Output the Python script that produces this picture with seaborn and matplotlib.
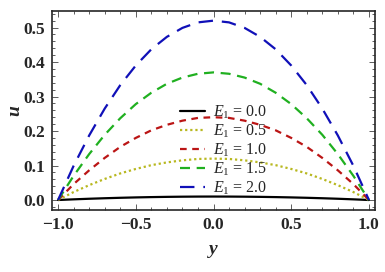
import numpy as np
import pandas as pd
import matplotlib
matplotlib.use("Agg")
import matplotlib.pyplot as plt
import seaborn as sns
from matplotlib.ticker import MultipleLocator

# values, y from -1.0 to 1.0 in steps of 0.1
y_vals = [-1.0, -0.9, -0.8, -0.7, -0.6, -0.5, -0.4, -0.3, -0.2, -0.1, 0.0,
          0.1, 0.2, 0.3, 0.4, 0.5, 0.6, 0.7, 0.8, 0.9, 1.0]
u_e00 = [0.0, 0.0019, 0.0036, 0.0051, 0.0064, 0.0075, 0.0084, 0.0091, 0.0096, 0.0099, 0.010,
         0.0099, 0.0096, 0.0091, 0.0084, 0.0075, 0.0064, 0.0051, 0.0036, 0.0019, 0.0]
u_e05 = [0.0, 0.023, 0.043, 0.061, 0.077, 0.090, 0.101, 0.109, 0.115, 0.119, 0.120,
         0.119, 0.115, 0.109, 0.101, 0.090, 0.077, 0.061, 0.043, 0.023, 0.0]
u_e10 = [0.0, 0.046, 0.086, 0.122, 0.154, 0.180, 0.202, 0.218, 0.230, 0.238, 0.240,
         0.238, 0.230, 0.218, 0.202, 0.180, 0.154, 0.122, 0.086, 0.046, 0.0]
u_e15 = [0.0, 0.070, 0.133, 0.189, 0.237, 0.278, 0.311, 0.337, 0.355, 0.366, 0.370,
         0.366, 0.355, 0.337, 0.311, 0.278, 0.237, 0.189, 0.133, 0.070, 0.0]
u_e20 = [0.0, 0.099, 0.187, 0.265, 0.333, 0.390, 0.437, 0.473, 0.499, 0.515, 0.520,
         0.515, 0.499, 0.473, 0.437, 0.390, 0.333, 0.265, 0.187, 0.099, 0.0]
labels = ["0.0", "0.5", "1.0", "1.5", "2.0"]

series = [u_e00, u_e05, u_e10, u_e15, u_e20]
colors = ["black", "#b8b820", "#bb1515", "#20b020", "#1010b8"]
dashes = [None, (1, 1.3), (3, 2.5), (4.5, 3), (6.5, 4)]

sns.set_style("ticks")
plt.rcParams["font.family"] = ["Liberation Serif", "DejaVu Serif"]
plt.rcParams["mathtext.fontset"] = "custom"
plt.rcParams["mathtext.it"] = "Liberation Serif:italic"
plt.rcParams["mathtext.rm"] = "Liberation Serif"

fig = plt.figure(figsize=(3.85, 2.72), dpi=100)
ax = fig.add_axes([52 / 385, 1 - 210 / 272, 323 / 385, 199 / 272])

for vals, lab, c, d in zip(series, labels, colors, dashes):
    df = pd.DataFrame({"y": y_vals, "u": vals})
    sns.lineplot(data=df, x="y", y="u", ax=ax, color=c, lw=1.6,
                 label=f"$E_1$ = {lab}")
    ln = ax.lines[-1]
    if d is not None:
        ln.set_dashes(d)
    ln.set_dash_capstyle("butt")

ax.set_xlim(-1.039, 1.039)
ax.set_ylim(-0.029, 0.548)
ax.xaxis.set_major_locator(MultipleLocator(0.5))
ax.xaxis.set_minor_locator(MultipleLocator(0.1))
ax.yaxis.set_major_locator(MultipleLocator(0.1))
ax.yaxis.set_minor_locator(MultipleLocator(0.02))
ax.xaxis.set_major_formatter(plt.FuncFormatter(lambda v, p: f"{v:.1f}".replace("-", "\u2212")))
ax.yaxis.set_major_formatter(plt.FuncFormatter(lambda v, p: f"{v:.1f}"))
ax.tick_params(which="both", direction="in", top=True, right=True, labelsize=12.5,
               width=0.6, color="#444444", pad=5)
ax.tick_params(which="major", length=4)
ax.tick_params(which="minor", length=2)
for lbl in ax.get_xticklabels() + ax.get_yticklabels():
    lbl.set_fontweight("bold")
for s in ax.spines.values():
    s.set_linewidth(1.2)

ax.set_xlabel("y", fontsize=14, style="italic", fontweight="bold", labelpad=6)
ax.set_ylabel("u", fontsize=14, style="italic", fontweight="bold", labelpad=0)

ax.legend(loc="upper left", bbox_to_anchor=(0.361, 0.59), frameon=False,
          fontsize=11.5, handlelength=1.6, handletextpad=0.5,
          labelspacing=0.1, borderpad=0.2)

fig.savefig("out.png", dpi=100)
